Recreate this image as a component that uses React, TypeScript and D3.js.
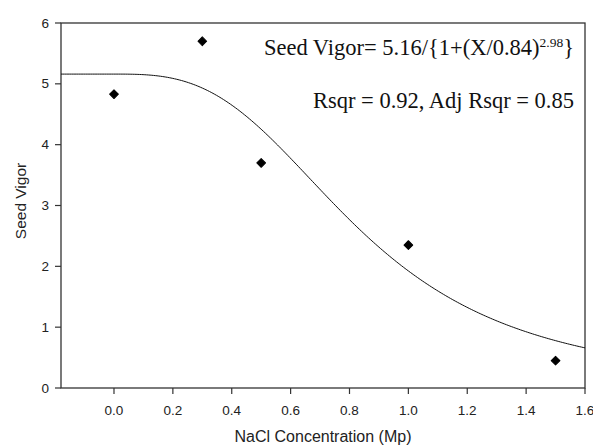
import React from "react";
import * as d3 from "d3";

const pointX = [0.0, 0.3, 0.5, 1.0, 1.5];
const pointY = [4.83, 5.7, 3.7, 2.35, 0.45];
const xTicks = [0.0, 0.2, 0.4, 0.6, 0.8, 1.0, 1.2, 1.4, 1.6];
const yTicks = [0, 1, 2, 3, 4, 5, 6];
const fitA = 5.16;
const fitB = 0.84;
const fitC = 2.98;
const xDomain = [-0.18, 1.6];
const yDomain = [0, 6];

const W = 593;
const H = 447;
const L = 61, R = 585, T = 23, B = 388;

export default function App() {
  const x = d3.scaleLinear().domain(xDomain).range([L, R]);
  const y = d3.scaleLinear().domain(yDomain).range([B, T]);
  const f = (v: number) => fitA / (1 + Math.pow(Math.max(v, 0) / fitB, fitC));
  const curveX = d3.range(0, 301).map((i) => xDomain[0] + ((xDomain[1] - xDomain[0]) * i) / 300);
  const line = d3
    .line<number>()
    .x((d) => x(d))
    .y((d) => y(f(d)));
  const marker = d3.symbol().type(d3.symbolSquare).size(38)();
  const sans = "Arial, 'Liberation Sans', sans-serif";
  const serif = "'Times New Roman', 'Liberation Serif', serif";
  const textColor = "#222";
  return (
    <div style={{ position: "absolute", left: 0, top: 0 }}>
      <svg width={W} height={H} style={{ display: "block", background: "#fff" }}>
        <rect x={L} y={T} width={R - L} height={B - T} fill="none" stroke="#333" strokeWidth={1.3} />
        <path d={line(curveX) || ""} fill="none" stroke="#111" strokeWidth={1} />
        {pointX.map((px, i) => (
          <path
            key={i}
            d={marker || ""}
            transform={`translate(${x(px)},${y(pointY[i])}) rotate(45)`}
            fill="#000"
            stroke="#000"
            strokeWidth={1}
            strokeLinejoin="round"
          />
        ))}
        {xTicks.map((t) => (
          <g key={"x" + t}>
            <line x1={x(t)} x2={x(t)} y1={B} y2={B + 6} stroke="#333" strokeWidth={1.2} />
            <text x={x(t)} y={B + 27} textAnchor="middle" fontFamily={sans} fontSize={13.5} fill={textColor}>
              {t.toFixed(1)}
            </text>
          </g>
        ))}
        {yTicks.map((t) => (
          <g key={"y" + t}>
            <line x1={L} x2={L - 6} y1={y(t)} y2={y(t)} stroke="#333" strokeWidth={1.2} />
            <text x={L - 12} y={y(t) + 4.5} textAnchor="end" fontFamily={sans} fontSize={13.5} fill={textColor}>
              {t}
            </text>
          </g>
        ))}
        <text
          transform={`translate(26,201) rotate(-90)`}
          textAnchor="middle"
          fontFamily={sans}
          fontSize={15.5}
          fill={textColor}
        >
          Seed Vigor
        </text>
        <text x={323} y={441.5} textAnchor="middle" fontFamily={sans} fontSize={16} fill={textColor}>
          NaCl Concentration (Mp)
        </text>
        <text x={574} y={55} textAnchor="end" fontFamily={serif} fontSize={22.5} fill="#111">
          Seed Vigor= 5.16/{"{"}1+(X/0.84)
          <tspan fontSize={13.5} dy={-8}>2.98</tspan>
          <tspan dy={8}>{"}"}</tspan>
        </text>
        <text x={574} y={107.5} textAnchor="end" fontFamily={serif} fontSize={22.5} fill="#111">
          Rsqr = 0.92, Adj Rsqr = 0.85
        </text>
      </svg>
    </div>
  );
}
